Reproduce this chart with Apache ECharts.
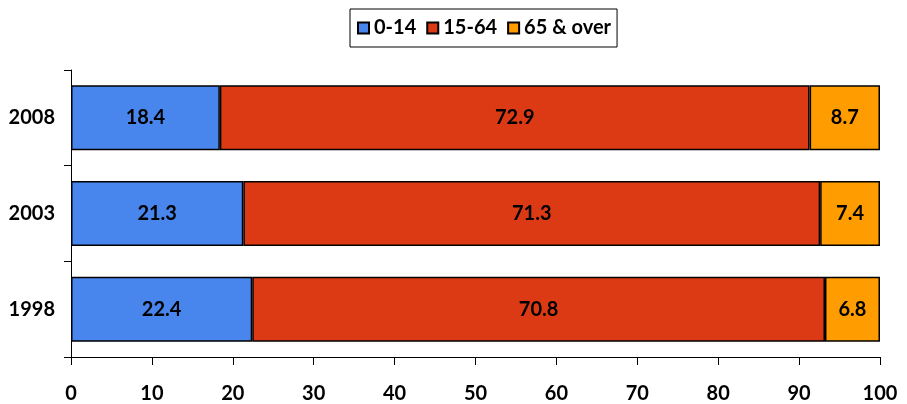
<!DOCTYPE html>
<html><head><meta charset="utf-8">
<script src="https://cdn.jsdelivr.net/npm/echarts@6/dist/echarts.min.js"></script>
<style>html,body{margin:0;padding:0;background:#fff}#c{width:907px;height:404px}</style>
</head><body><div id="c"></div>
<script>
const categories = ['1998', '2003', '2008'];
const seriesNames = ['0-14', '15-64', '65 & over'];
const age0to14 = [22.4, 21.3, 18.4];
const age15to64 = [70.8, 71.3, 72.9];
const age65plus = [6.8, 7.4, 8.7];
const xTicks = [0, 10, 20, 30, 40, 50, 60, 70, 80, 90, 100];
const colors = ['#4886EE', '#DC3A14', '#FF9C00'];
const font = 'Lato, "Open Sans", sans-serif';
const fs = 20;
const chart = echarts.init(document.getElementById('c'));
const mk = (name, data, color) => ({
  name, type: 'bar', stack: 'total', data, barWidth: '68%',
  itemStyle: { color, borderColor: '#000', borderWidth: 1.5 },
  label: { show: true, position: 'inside', color: '#000', fontWeight: 'bold', fontSize: fs, fontFamily: font,
    formatter: p => p.value.toFixed(1) }
});
chart.setOption({
  animation: false,
  legend: {
    top: 9, left: 350, icon: 'rect', itemWidth: 11, itemHeight: 11, itemGap: 10,
    borderColor: '#000', borderWidth: 1, padding: [9, 6, 9, 7],
    textStyle: { color: '#000', fontWeight: 'bold', fontSize: fs, fontFamily: font },
    data: seriesNames
  },
  grid: { left: 71, right: 27, top: 70, bottom: 46 },
  xAxis: {
    type: 'value', min: xTicks[0], max: xTicks[xTicks.length - 1], interval: 10,
    axisLine: { show: true, lineStyle: { color: '#000', width: 1 } },
    axisTick: { show: true, length: 8, lineStyle: { color: '#000' } },
    splitLine: { show: false },
    axisLabel: { color: '#000', fontWeight: 'bold', fontSize: fs, fontFamily: font, margin: 27 }
  },
  yAxis: {
    type: 'category', data: categories,
    axisLine: { show: true, lineStyle: { color: '#000', width: 1 } },
    axisTick: { show: true, length: 7, lineStyle: { color: '#000' } },
    axisLabel: { color: '#000', fontWeight: 'bold', fontSize: fs, fontFamily: font, margin: 16 }
  },
  series: [
    mk(seriesNames[0], age0to14, colors[0]),
    mk(seriesNames[1], age15to64, colors[1]),
    mk(seriesNames[2], age65plus, colors[2])
  ]
});
</script></body></html>
